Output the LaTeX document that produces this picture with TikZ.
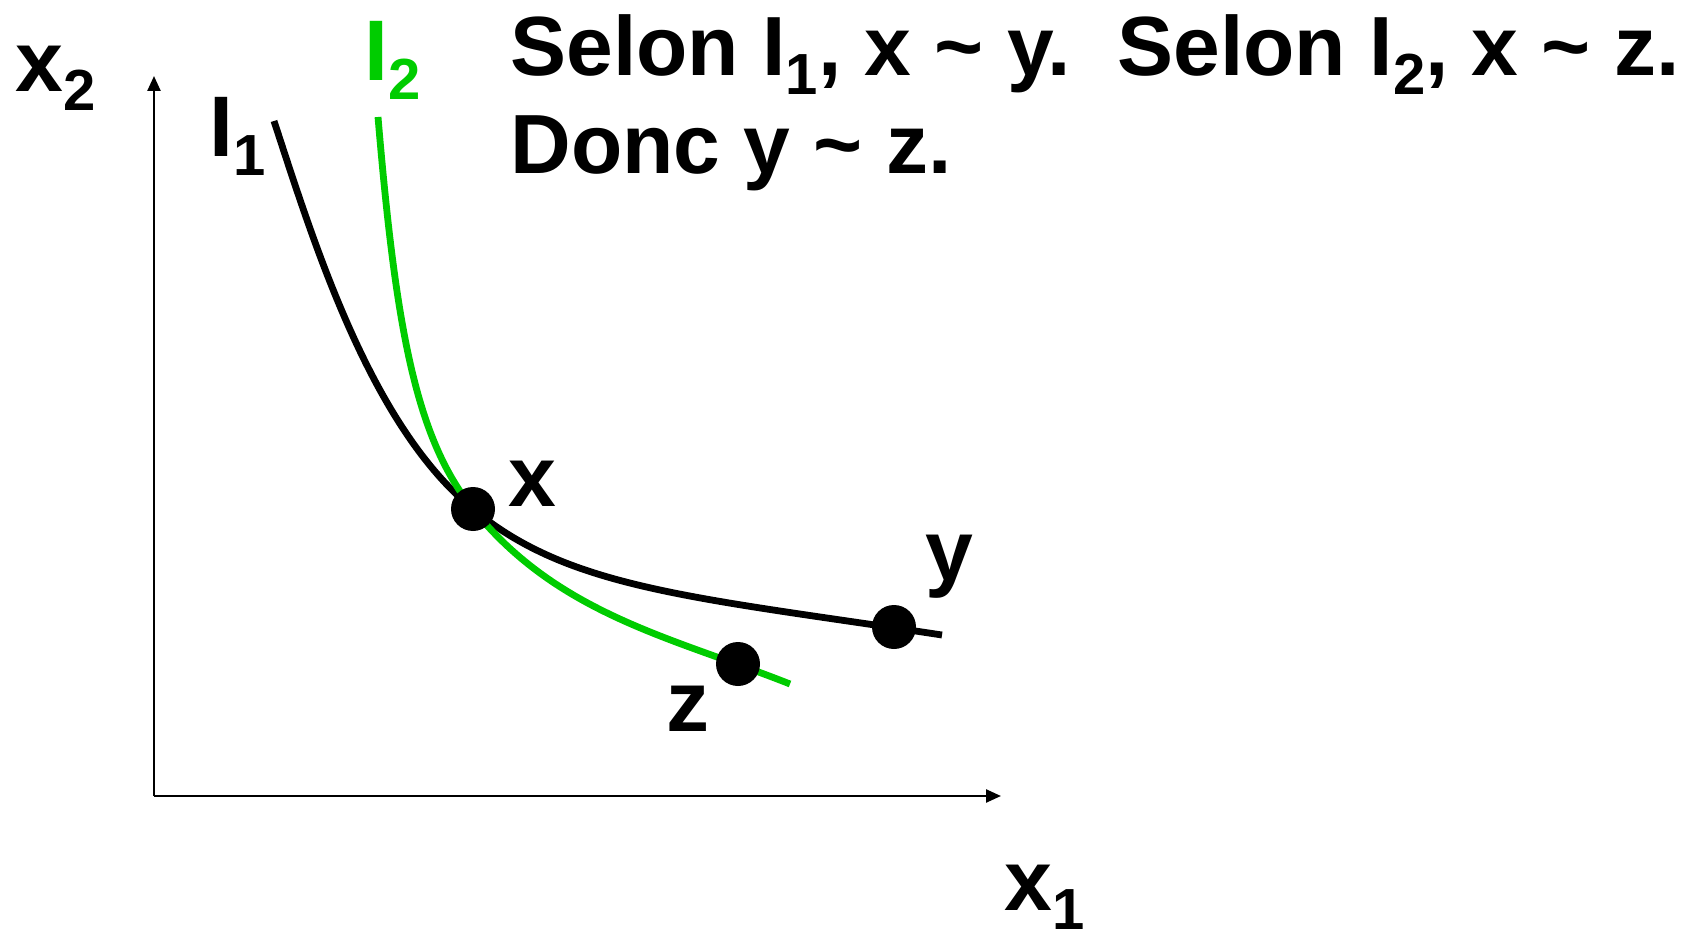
\documentclass[tikz,border=0pt]{standalone}
\usepackage{fontspec}
\setmainfont{Liberation Sans}
\usepackage{tikz}
\usetikzlibrary{arrows.meta}
\definecolor{curvegreen}{RGB}{0,204,0}
\newcommand{\lowidx}[1]{\raisebox{-9.5pt}{\fontsize{29}{29}\selectfont #1}}

\begin{document}
\begin{tikzpicture}[x=0.5pt,y=-0.5pt,
  lbl/.style={inner sep=0pt,anchor=base west,
              font=\fontsize{43}{50}\selectfont\bfseries},
  note/.style={inner sep=0pt,anchor=base west,
               font=\fontsize{42}{50}\selectfont\bfseries},
  axis/.style={line width=1.2pt,-{Triangle[length=7.5pt,width=6.5pt]}},
  icurve/.style={line width=3.4pt},
  dot/.style={circle,fill=black,minimum size=22pt,inner sep=0pt}
]
\useasboundingbox (0,0) rectangle (1703,936);
% axes
\coordinate (O) at (154,796);
\coordinate (ytip) at (154,76);
\coordinate (xtip) at (1001,796);
\draw[axis] (O)--(ytip);
\draw[axis] (O)--(xtip);
\node[lbl] (labx2) at (15,92) {x\lowidx{2}};
\node[lbl] (labx1) at (1004,910) {x\lowidx{1}};
% bundles
\coordinate (cx) at (473,509);
\coordinate (cy) at (894,627);
\coordinate (cz) at (738,664);
\draw[icurve,black] (274,121) .. controls (314,243) and (370,425) .. (cx)
  .. controls (569,589) and (692,597) .. (942,635);
\draw[icurve,curvegreen] (378,117) .. controls (396,330) and (416,438) .. (cx)
  .. controls (558,615) and (674,638) .. (790,684);
\node[dot] (px) at (cx) {};
\node[dot] (py) at (cy) {};
\node[dot] (pz) at (cz) {};
\node[lbl] (labx) at (508,506) {x};
\node[lbl] (laby) at (925,580) {y};
\node[lbl] (labz) at (666,731) {z};
\node[lbl] (labI1) at (209,157) {I\lowidx{1}};
\node[lbl,curvegreen] (labI2) at (364,81) {I\lowidx{2}};
% statement
\node[note] (note1) at (510,76)
  {Selon I\lowidx{1}, x \textasciitilde{} y.\ \ Selon I\lowidx{2}, x \textasciitilde{} z.};
\node[note] (note2) at (510,174) {Donc y \textasciitilde{} z.};
\end{tikzpicture}
\end{document}
